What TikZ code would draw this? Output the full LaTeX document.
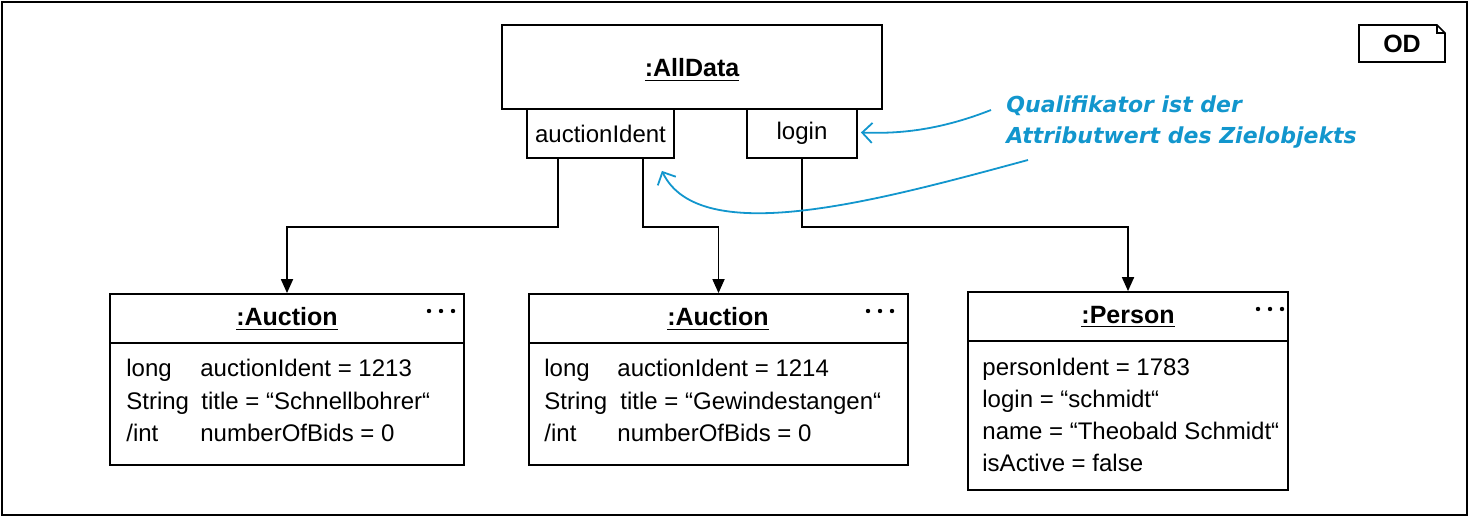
\documentclass[tikz,border=0pt]{standalone}
\usepackage{fontspec}
\setmainfont{Liberation Sans}
\newfontfamily\notefont{DejaVu Sans}
\usetikzlibrary{calc,arrows.meta}
\definecolor{noteblue}{RGB}{18,150,205}

\tikzset{
  objbox/.style={draw,line width=0.9pt,inner sep=0pt},
  qualbox/.style={draw,line width=0.9pt,inner sep=0pt,minimum height=24.5pt},
  link/.style={line width=0.9pt,-{Triangle[length=7pt,width=6pt]}},
  notearrow/.style={noteblue,line width=0.9pt,-{Straight Barb[length=5pt,width=10pt]}},
  attr/.style={anchor=base west,inner sep=0pt,font=\fontsize{12}{14}\selectfont},
  title/.style={inner sep=0pt,font=\fontsize{12.5}{14}\selectfont\bfseries}
}

\begin{document}
\begin{tikzpicture}[x=0.5pt,y=-0.5pt]
\useasboundingbox (0,0) rectangle (1470,518);
\draw[line width=0.8pt] (2,2) rectangle (1467,515);

% diagram tag
\draw[line width=0.8pt] (1359,25) -- (1437,25) -- (1445,33) -- (1445,62) -- (1359,62) -- cycle;
\draw[line width=0.6pt] (1437,25) |- (1445,33);
\node[title] (od) at (1402,44) {OD};

% root object with qualifiers
\node[objbox,minimum width=190pt,minimum height=42pt] (all) at (692,67) {};
\node[title] (allt) at (692,70) {\underline{:AllData}};
\node[qualbox,minimum width=73.5pt,font=\fontsize{12}{14}\selectfont] (qa) at (600.5,133.5) {auctionIdent};
\node[qualbox,minimum width=55pt,font=\fontsize{12}{14}\selectfont] (ql) at (802,133.5) {login};

% auction 1
\node[objbox,minimum width=177pt,minimum height=85.5pt] (a1) at (287,379.5) {};
\node[title] (a1t) at (287,319) {\underline{:Auction}};
\draw[line width=0.9pt] (a1.west |- 0,343) -- (a1.east |- 0,343);
\node[attr] (a1r1) at (126,376) {long};
\node[attr] (a1r2) at (126,409) {String};
\node[attr] (a1r3) at (126,441) {/int};
\node[attr] (a1v1) at (200,376) {auctionIdent = 1213};
\node[attr] (a1v2) at (201,409) {title = “Schnellbohrer“};
\node[attr] (a1v3) at (200,441) {numberOfBids = 0};

% auction 2
\node[objbox,minimum width=189.5pt,minimum height=85.5pt] (a2) at (718.5,379.5) {};
\node[title] (a2t) at (718,319) {\underline{:Auction}};
\draw[line width=0.9pt] (a2.west |- 0,343) -- (a2.east |- 0,343);
\node[attr] (a2r1) at (544,376) {long};
\node[attr] (a2r2) at (544,409) {String};
\node[attr] (a2r3) at (544,441) {/int};
\node[attr] (a2v1) at (617,376) {auctionIdent = 1214};
\node[attr] (a2v2) at (620,409) {title = “Gewindestangen“};
\node[attr] (a2v3) at (617,441) {numberOfBids = 0};

% person
\node[objbox,minimum width=160pt,minimum height=99pt] (p) at (1128,391) {};
\node[title] (pt) at (1128,317) {\underline{:Person}};
\draw[line width=0.9pt] (p.west |- 0,341) -- (p.east |- 0,341);
\node[attr] (pv1) at (982,375) {personIdent = 1783};
\node[attr] (pv2) at (982,407) {login = “schmidt“};
\node[attr] (pv3) at (982,439) {name = “Theobald Schmidt“};
\node[attr] (pv4) at (982,471) {isActive = false};

% ellipses
\foreach \x/\y in {441/311, 880/311, 1270/309}{
  \foreach \d in {-12,0,12}
    \fill (\x+\d,\y) circle (2.2);
}

% links
\coordinate (bend) at (0,227);
\draw[link] ([xshift=-21.25pt]qa.south) |- (a1.north |- bend) -- (a1.north);
\draw[link] ([xshift=21.25pt]qa.south) |- (a2.north |- bend) -- (a2.north);
\draw[link] (ql.south) |- (p.north |- bend) -- (p.north);

% annotation
\node[anchor=west,align=left,text=noteblue,inner sep=0pt,
  font=\notefont\fontsize{11}{15.5}\selectfont\bfseries\itshape] (note) at (1006,122)
  {Qualifikator ist der\\Attributwert des Zielobjekts};
\coordinate (n1) at (991,110);
\coordinate (n2) at (1028,160);
\draw[notearrow] (n1) .. controls (940,130) and (900,134) .. ($(ql.east)+(3,-1)$);
\draw[notearrow] (n2) .. controls (880,200) and (700,250) .. ($(qa.south east)+(-13,12)$);
\end{tikzpicture}
\end{document}
